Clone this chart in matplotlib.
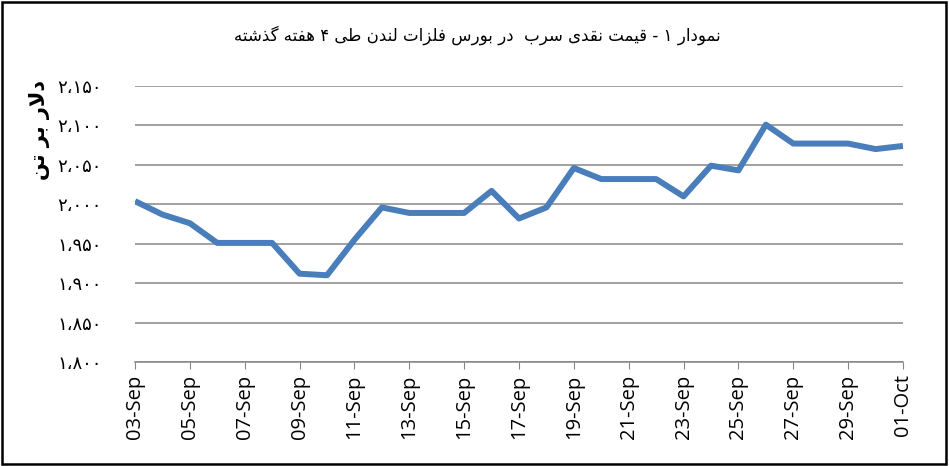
import matplotlib
matplotlib.use("Agg")
import matplotlib.pyplot as plt
from matplotlib.patches import Rectangle
import numpy as np

# data (daily, 03-Sep .. 01-Oct)
days = ['03-Sep', '04-Sep', '05-Sep', '06-Sep', '07-Sep', '08-Sep', '09-Sep', '10-Sep',
        '11-Sep', '12-Sep', '13-Sep', '14-Sep', '15-Sep', '16-Sep', '17-Sep', '18-Sep',
        '19-Sep', '20-Sep', '21-Sep', '22-Sep', '23-Sep', '24-Sep', '25-Sep', '26-Sep',
        '27-Sep', '28-Sep', '29-Sep', '30-Sep', '01-Oct']
price = [2004, 1987, 1976, 1951, 1951, 1951, 1912, 1910,
         1955, 1996, 1989, 1989, 1989, 2017, 1982, 1996,
         2046, 2032, 2032, 2032, 2010, 2049, 2043, 2101,
         2077, 2077, 2077, 2070, 2074]
y_ticks = [1800, 1850, 1900, 1950, 2000, 2050, 2100, 2150]

title_text = 'نمودار ۱ - قیمت نقدی سرب  در بورس فلزات لندن طی ۴ هفته گذشته'
ylabel_text = 'دلار بر تن'

# matplotlib has no arabic shaping, so pick presentation forms by hand
# (isolated, final, initial, medial)
FORMS = {
    'ا': (0xFE8D, 0xFE8E, None, None),
    'ب': (0xFE8F, 0xFE90, 0xFE91, 0xFE92),
    'ت': (0xFE95, 0xFE96, 0xFE97, 0xFE98),
    'د': (0xFEA9, 0xFEAA, None, None),
    'ذ': (0xFEAB, 0xFEAC, None, None),
    'ر': (0xFEAD, 0xFEAE, None, None),
    'ز': (0xFEAF, 0xFEB0, None, None),
    'س': (0xFEB1, 0xFEB2, 0xFEB3, 0xFEB4),
    'ش': (0xFEB5, 0xFEB6, 0xFEB7, 0xFEB8),
    'ط': (0xFEC1, 0xFEC2, 0xFEC3, 0xFEC4),
    'ف': (0xFED1, 0xFED2, 0xFED3, 0xFED4),
    'ق': (0xFED5, 0xFED6, 0xFED7, 0xFED8),
    'ل': (0xFEDD, 0xFEDE, 0xFEDF, 0xFEE0),
    'م': (0xFEE1, 0xFEE2, 0xFEE3, 0xFEE4),
    'ن': (0xFEE5, 0xFEE6, 0xFEE7, 0xFEE8),
    'ه': (0xFEE9, 0xFEEA, 0xFEEB, 0xFEEC),
    'و': (0xFEED, 0xFEEE, None, None),
    'ی': (0xFBFC, 0xFBFD, 0xFBFE, 0xFBFF),
    'گ': (0xFB92, 0xFB93, 0xFB94, 0xFB95),
}


def dual(c):
    return c in FORMS and FORMS[c][2] is not None


def shape(text):
    res = []
    i = 0
    n = len(text)
    while i < n:
        c = text[i]
        prev = text[i - 1] if i > 0 else None
        if c == 'ل' and i + 1 < n and text[i + 1] == 'ا':
            res.append('\uFEFC' if dual(prev) else '\uFEFB')
            i += 2
            continue
        if c not in FORMS:
            res.append(c)
            i += 1
            continue
        nxt = text[i + 1] if i + 1 < n else None
        jp = dual(prev)
        jn = dual(c) and nxt in FORMS
        iso, fin, ini, med = FORMS[c]
        if jp and jn:
            code = med
        elif jp:
            code = fin
        elif jn:
            code = ini
        else:
            code = iso
        res.append(chr(code))
        i += 1
    return ''.join(reversed(res))


def fa_number(v):
    s = '{:,}'.format(v)
    return s.translate(str.maketrans('0123456789,', '۰۱۲۳۴۵۶۷۸۹،'))


fig = plt.figure(figsize=(9.49, 4.66), dpi=100)
ax = fig.add_axes([135 / 949, 1 - 362 / 466, (903 - 135) / 949, (362 - 86) / 466])

x = np.arange(len(days))
ax.plot(x, price, color='#4a7ebb', linewidth=4.3, solid_joinstyle='round',
        solid_capstyle='butt', zorder=3)

ax.set_xlim(0, len(days) - 1)
ax.set_ylim(y_ticks[0], y_ticks[-1])
ax.set_yticks(y_ticks)
ax.set_yticklabels([fa_number(v) for v in y_ticks], family='DejaVu Sans', fontsize=13)
ax.set_xticks(x[::2])
ax.set_xticklabels(days[::2], rotation=90, fontsize=14.5, family='Open Sans')

ax.grid(axis='y', color='#868686', linewidth=1.1)
ax.set_axisbelow(True)
for s in ['left', 'top', 'right']:
    ax.spines[s].set_visible(False)
ax.spines['bottom'].set_color('#868686')
ax.spines['bottom'].set_linewidth(1.1)
ax.tick_params(axis='y', length=0, pad=24)
ax.tick_params(axis='x', length=5, color='#868686', direction='out', pad=4)

fig.text(477 / 949, 1 - 35 / 466, shape(title_text), ha='center', va='center',
         fontsize=12, family='DejaVu Sans')
fig.text(40 / 949, 1 - 130 / 466, shape(ylabel_text), rotation=90, ha='center', va='center',
         fontsize=15, fontweight='bold', family='DejaVu Sans')

fig.patches.append(Rectangle((0.002, 0.004), 0.995, 0.992, transform=fig.transFigure,
                             fill=False, edgecolor='black', linewidth=1.8))

fig.savefig('out.png', dpi=100)
